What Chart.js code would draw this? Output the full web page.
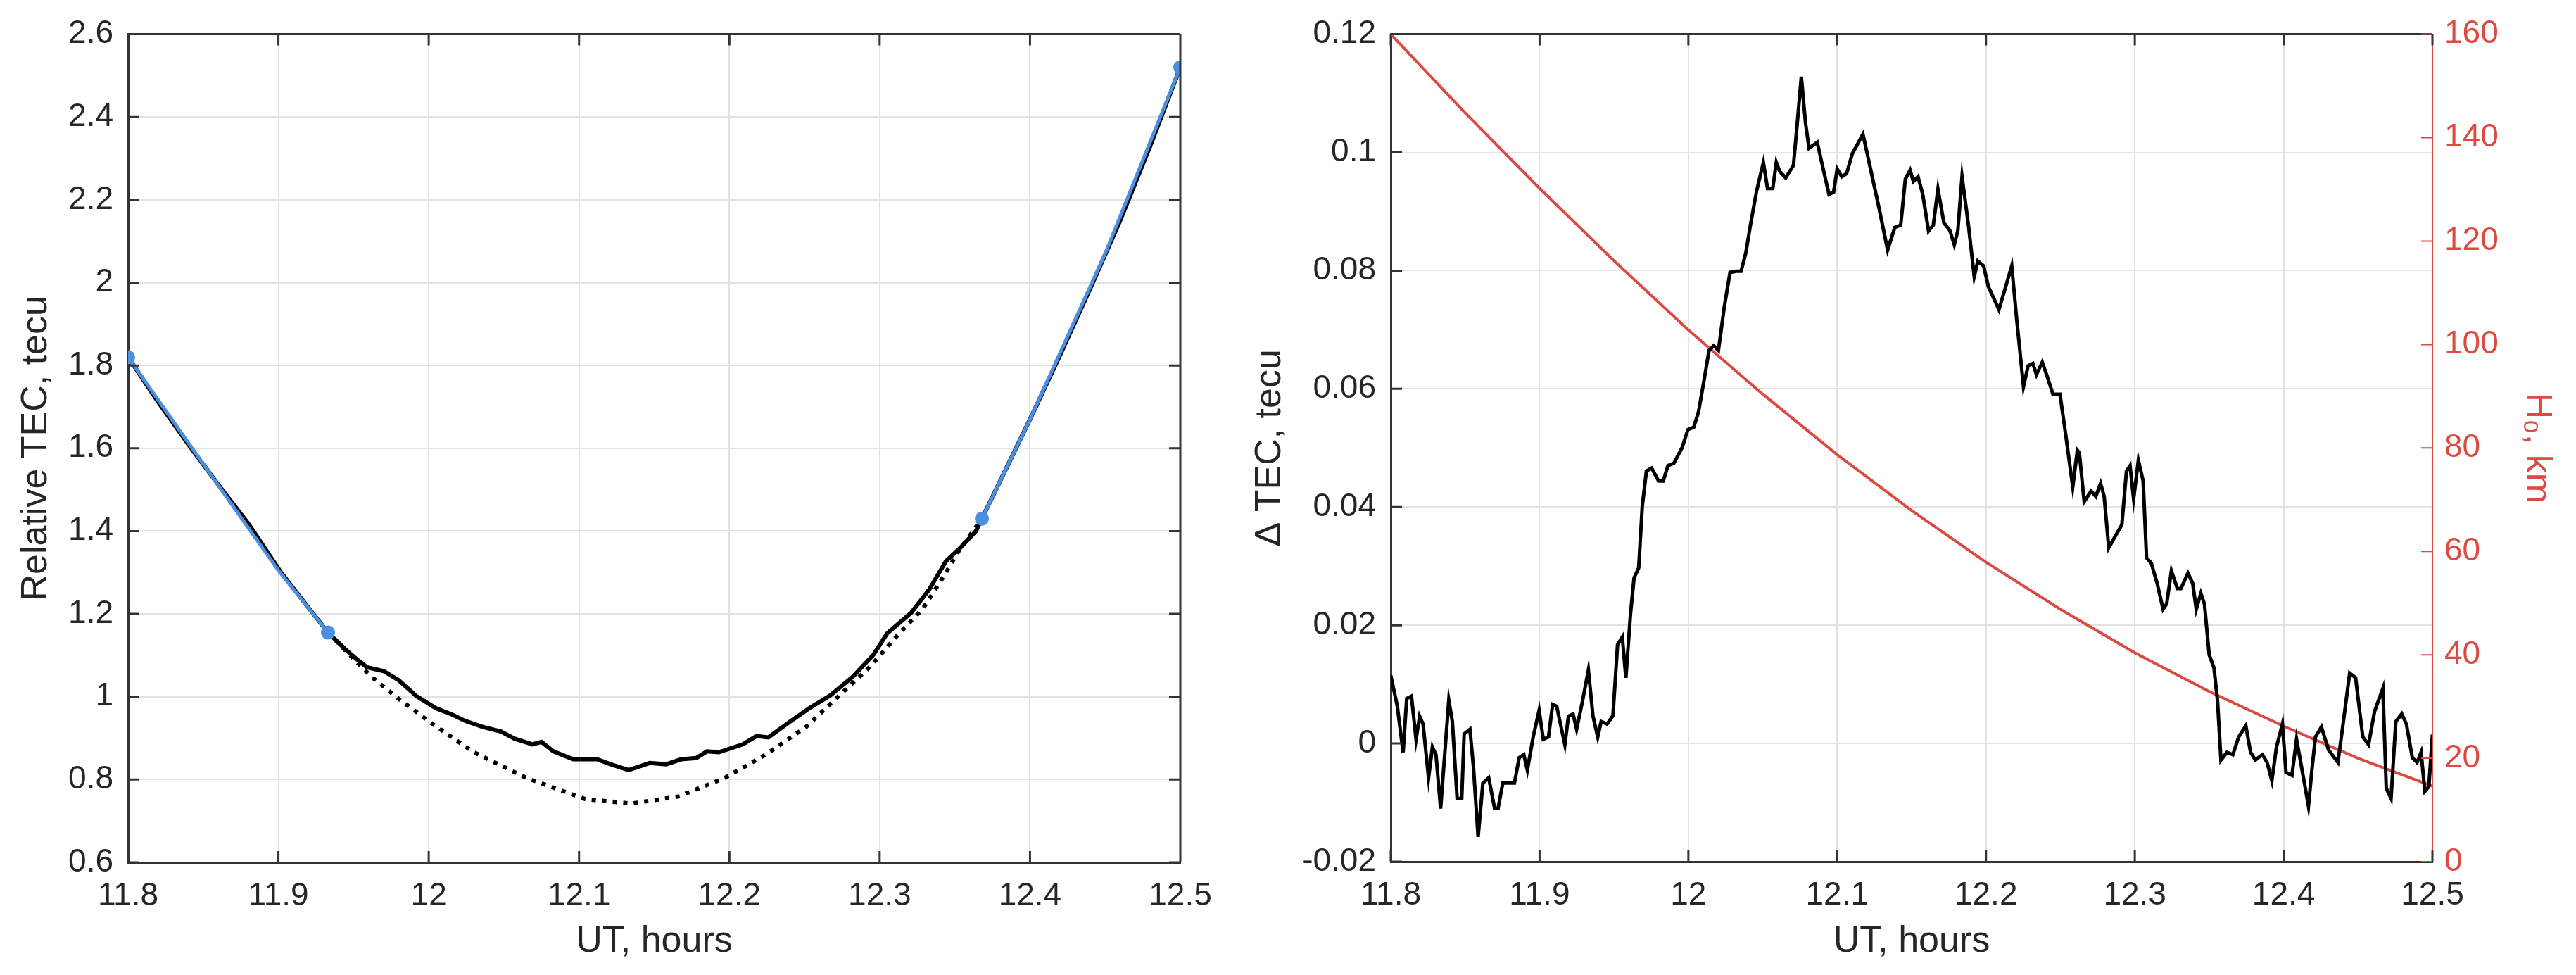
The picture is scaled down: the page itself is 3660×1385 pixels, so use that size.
<!DOCTYPE html>
<html>
<head>
<meta charset="utf-8">
<script src="https://cdn.jsdelivr.net/npm/chart.js@4.4.1/dist/chart.umd.min.js"></script>
<style>
  html, body { margin: 0; padding: 0; background: #fff; }
  #wrap { position: relative; width: 3660px; height: 1385px; }
  canvas { position: absolute; top: 0; }
  #left-chart { left: 0; }
  #right-chart { left: 1760px; }
</style>
</head>
<body>
<div id="wrap">
  <canvas id="left-chart" width="1760" height="1385"></canvas>
  <canvas id="right-chart" width="1900" height="1385"></canvas>
</div>
<script>
// 目盛り
const xTickValues = [11.8, 11.9, 12.0, 12.1, 12.2, 12.3, 12.4, 12.5];
const xTickLabels = ['11.8', '11.9', '12', '12.1', '12.2', '12.3', '12.4', '12.5'];
const tecTickValues = [0.6, 0.8, 1.0, 1.2, 1.4, 1.6, 1.8, 2.0, 2.2, 2.4, 2.6];
const tecTickLabels = ['0.6', '0.8', '1', '1.2', '1.4', '1.6', '1.8', '2', '2.2', '2.4', '2.6'];
const dTecTickValues = [-0.02, 0, 0.02, 0.04, 0.06, 0.08, 0.1, 0.12];
const dTecTickLabels = ['-0.02', '0', '0.02', '0.04', '0.06', '0.08', '0.1', '0.12'];
const hTickValues = [0, 20, 40, 60, 80, 100, 120, 140, 160];
const hTickLabels = ['0', '20', '40', '60', '80', '100', '120', '140', '160'];

// 左: Relative TEC (実線)
const tecTime = [11.800, 11.820, 11.840, 11.860, 11.880, 11.902, 11.920, 11.933, 11.945, 11.953,
  11.959, 11.970, 11.980, 11.992, 12.005, 12.015, 12.024, 12.036, 12.048, 12.057,
  12.069, 12.075, 12.083, 12.096, 12.112, 12.121, 12.133, 12.147, 12.158, 12.168,
  12.178, 12.185, 12.193, 12.209, 12.218, 12.226, 12.240, 12.253, 12.267, 12.282,
  12.296, 12.305, 12.321, 12.333, 12.344, 12.354, 12.364, 12.368, 12.380, 12.400,
  12.420, 12.440, 12.460, 12.480, 12.500];
const tecValues = [1.820, 1.712, 1.610, 1.512, 1.418, 1.299, 1.215, 1.155, 1.113, 1.088,
  1.071, 1.062, 1.040, 1.001, 0.972, 0.958, 0.942, 0.927, 0.916, 0.899,
  0.885, 0.891, 0.868, 0.849, 0.849, 0.837, 0.823, 0.840, 0.837, 0.849,
  0.852, 0.868, 0.866, 0.885, 0.905, 0.902, 0.939, 0.972, 1.003, 1.048,
  1.102, 1.153, 1.203, 1.259, 1.327, 1.361, 1.400, 1.430, 1.520, 1.670,
  1.825, 1.985, 2.150, 2.330, 2.520];

// 左: 青いフィット区間
const fitLeftTime = [11.800, 11.850, 11.900, 11.933];
const fitLeftValues = [1.820, 1.562, 1.305, 1.155];
const fitRightTime = [12.368, 12.400, 12.450, 12.500];
const fitRightValues = [1.430, 1.670, 2.070, 2.520];

// 左: 点線 (背景トレンド)
const trendTime = [11.933, 11.961, 11.980, 12.003, 12.030, 12.065, 12.104, 12.135, 12.166, 12.197,
  12.224, 12.251, 12.274, 12.294, 12.313, 12.329, 12.344, 12.352, 12.368];
const trendValues = [1.155, 1.051, 0.995, 0.933, 0.866, 0.804, 0.753, 0.742, 0.759, 0.804,
  0.860, 0.927, 1.006, 1.074, 1.153, 1.214, 1.299, 1.349, 1.430];

// 右: ΔTEC
const dTecTime = [11.8000, 11.8044, 11.8083, 11.8107, 11.8139, 11.8170, 11.8194, 11.8217, 11.8254, 11.8280,
  11.8304, 11.8335, 11.8390, 11.8414, 11.8446, 11.8477, 11.8493, 11.8532, 11.8556, 11.8587,
  11.8619, 11.8658, 11.8698, 11.8721, 11.8753, 11.8831, 11.8863, 11.8894, 11.8918, 11.8957,
  11.8997, 11.9025, 11.9060, 11.9088, 11.9115, 11.9170, 11.9194, 11.9225, 11.9249, 11.9288,
  11.9328, 11.9359, 11.9391, 11.9414, 11.9454, 11.9493, 11.9524, 11.9556, 11.9580, 11.9611,
  11.9635, 11.9666, 11.9690, 11.9718, 11.9753, 11.9800, 11.9831, 11.9863, 11.9902, 11.9957,
  11.9997, 12.0036, 12.0068, 12.0107, 12.0139, 12.0170, 12.0202, 12.0241, 12.0280, 12.0320,
  12.0354, 12.0386, 12.0417, 12.0457, 12.0504, 12.0532, 12.0567, 12.0591, 12.0614, 12.0654,
  12.0706, 12.0732, 12.0759, 12.0787, 12.0811, 12.0866, 12.0906, 12.0945, 12.0976, 12.1000,
  12.1031, 12.1063, 12.1102, 12.1173, 12.1213, 12.1276, 12.1339, 12.1387, 12.1427, 12.1458,
  12.1490, 12.1512, 12.1543, 12.1575, 12.1614, 12.1646, 12.1677, 12.1717, 12.1757, 12.1787,
  12.1811, 12.1839, 12.1882, 12.1921, 12.1945, 12.1984, 12.2016, 12.2087, 12.2173, 12.2205,
  12.2252, 12.2283, 12.2315, 12.2339, 12.2378, 12.2410, 12.2450, 12.2497, 12.2536, 12.2583,
  12.2614, 12.2627, 12.2660, 12.2706, 12.2738, 12.2770, 12.2794, 12.2825, 12.2865, 12.2913,
  12.2944, 12.2968, 12.2992, 12.3024, 12.3056, 12.3079, 12.3111, 12.3150, 12.3190, 12.3214,
  12.3246, 12.3286, 12.3310, 12.3357, 12.3389, 12.3413, 12.3444, 12.3468, 12.3500, 12.3532,
  12.3556, 12.3579, 12.3619, 12.3659, 12.3698, 12.3746, 12.3778, 12.3810, 12.3857, 12.3889,
  12.3921, 12.3952, 12.3992, 12.4016, 12.4056, 12.4087, 12.4127, 12.4167, 12.4190, 12.4214,
  12.4254, 12.4302, 12.4365, 12.4397, 12.4444, 12.4484, 12.4532, 12.4571, 12.4611, 12.4667,
  12.4690, 12.4722, 12.4754, 12.4794, 12.4825, 12.4865, 12.4897, 12.4924, 12.4949, 12.4976,
  12.5000];
const dTecValues = [0.0115, 0.0063, -0.0015, 0.0076, 0.0080, 0.0007, 0.0046, 0.0033, -0.0058, -0.0006,
  -0.0019, -0.0110, 0.0073, 0.0037, -0.0093, -0.0093, 0.0016, 0.0024, -0.0041, -0.0158,
  -0.0067, -0.0058, -0.0110, -0.0110, -0.0067, -0.0067, -0.0024, -0.0019, -0.0045, 0.0011,
  0.0056, 0.0007, 0.0011, 0.0066, 0.0063, -0.0002, 0.0046, 0.0050, 0.0024, 0.0071,
  0.0124, 0.0046, 0.0011, 0.0037, 0.0033, 0.0047, 0.0167, 0.0180, 0.0111, 0.0219,
  0.0280, 0.0297, 0.0401, 0.0461, 0.0466, 0.0444, 0.0444, 0.0470, 0.0474, 0.0500,
  0.0531, 0.0535, 0.0561, 0.0617, 0.0665, 0.0673, 0.0665, 0.0738, 0.0797, 0.0799,
  0.0799, 0.0830, 0.0877, 0.0933, 0.0983, 0.0939, 0.0939, 0.0983, 0.0968, 0.0957,
  0.0978, 0.1050, 0.1128, 0.1050, 0.1007, 0.1017, 0.0972, 0.0929, 0.0933, 0.0972,
  0.0959, 0.0964, 0.0998, 0.1031, 0.0985, 0.0912, 0.0835, 0.0873, 0.0877, 0.0955,
  0.0970, 0.0951, 0.0959, 0.0929, 0.0867, 0.0877, 0.0938, 0.0881, 0.0868, 0.0844,
  0.0868, 0.0959, 0.0877, 0.0790, 0.0816, 0.0808, 0.0773, 0.0734, 0.0808, 0.0721,
  0.0604, 0.0639, 0.0643, 0.0624, 0.0645, 0.0622, 0.0591, 0.0591, 0.0522, 0.0434,
  0.0496, 0.0492, 0.0409, 0.0427, 0.0418, 0.0440, 0.0418, 0.0331, 0.0349, 0.0370,
  0.0461, 0.0470, 0.0414, 0.0479, 0.0444, 0.0314, 0.0305, 0.0271, 0.0227, 0.0236,
  0.0292, 0.0262, 0.0262, 0.0288, 0.0271, 0.0227, 0.0254, 0.0236, 0.0150, 0.0128,
  0.0072, -0.0028, -0.0015, -0.0019, 0.0011, 0.0030, -0.0015, -0.0028, -0.0019, -0.0032,
  -0.0063, -0.0006, 0.0033, -0.0049, -0.0054, 0.0007, -0.0049, -0.0106, -0.0045, 0.0011,
  0.0028, -0.0011, -0.0032, 0.0028, 0.0119, 0.0111, 0.0011, -0.0002, 0.0054, 0.0093,
  -0.0076, -0.0093, 0.0037, 0.0050, 0.0033, -0.0024, -0.0032, -0.0015, -0.0081, -0.0073,
  0.0015];

// 右: H0
const hTime = [11.80, 11.85, 11.90, 11.95, 12.00, 12.05, 12.10, 12.15, 12.20, 12.25, 12.30, 12.35, 12.40, 12.45, 12.50];
const hValues = [160, 144.8, 130.2, 116.2, 102.8, 90.4, 78.7, 67.9, 57.9, 48.8, 40.4, 32.9, 26.2, 20.0, 14.6];

// スタイル
const textColor = '#262626';
const axisColor = '#333333';
const gridColor = '#e2e2e2';
const blue = '#4a8fe0';
const red = '#dc4a42';
const tickLen = 16;

Chart.defaults.font.family = '"Liberation Sans", Arial, Helvetica, sans-serif';
Chart.defaults.color = textColor;

const toPoints = (xs, ys) => xs.map((x, i) => ({ x, y: ys[i] }));

// MATLAB風の内向き目盛りと枠線
const boxTicks = {
  id: 'boxTicks',
  afterDatasetsDraw(chart, args, opts) {
    const { ctx, chartArea: a, scales } = chart;
    const xs = scales.x, ys = scales.y;
    ctx.save();
    ctx.lineWidth = 3;
    ctx.strokeStyle = axisColor;
    ctx.beginPath();
    ctx.moveTo(a.left, a.top);
    ctx.lineTo(a.right, a.top);
    if (opts.rightBox) {
      ctx.moveTo(a.right, a.top);
      ctx.lineTo(a.right, a.bottom);
    }
    xs.ticks.forEach(t => {
      const px = xs.getPixelForValue(t.value);
      ctx.moveTo(px, a.bottom);
      ctx.lineTo(px, a.bottom - tickLen);
      ctx.moveTo(px, a.top);
      ctx.lineTo(px, a.top + tickLen);
    });
    ys.ticks.forEach(t => {
      const py = ys.getPixelForValue(t.value);
      ctx.moveTo(a.left, py);
      ctx.lineTo(a.left + tickLen, py);
      if (opts.rightBox) {
        ctx.moveTo(a.right, py);
        ctx.lineTo(a.right - tickLen, py);
      }
    });
    ctx.stroke();
    if (scales.y1) {
      ctx.strokeStyle = red;
      ctx.lineWidth = 2;
      ctx.beginPath();
      scales.y1.ticks.forEach(t => {
        const py = scales.y1.getPixelForValue(t.value);
        ctx.moveTo(a.right, py);
        ctx.lineTo(a.right - tickLen, py);
      });
      ctx.stroke();
    }
    ctx.restore();
  }
};

const fixedTicks = (values) => s => {
  s.ticks = values.map(v => ({ value: v }));
};

const xScale = (height) => ({
  type: 'linear',
  min: 11.8,
  max: 12.5,
  afterBuildTicks: fixedTicks(xTickValues),
  afterFit: s => { s.height = height; },
  grid: { color: gridColor, lineWidth: 2, drawTicks: false },
  border: { color: axisColor, width: 3 },
  ticks: {
    autoSkip: false, maxRotation: 0, padding: 21,
    font: { size: 46 }, color: textColor,
    callback: (v, i) => xTickLabels[i]
  },
  title: {
    display: true, text: 'UT, hours', color: textColor,
    font: { size: 52 }, padding: { top: 0, bottom: 16 }
  }
});

const endMarker = n => c => (c.dataIndex === 0 || c.dataIndex === n - 1) ? 10 : 0;

// 左のグラフ
new Chart(document.getElementById('left-chart'), {
  type: 'line',
  data: {
    datasets: [
      {
        data: toPoints(fitLeftTime, fitLeftValues),
        borderColor: blue, backgroundColor: blue, borderWidth: 5,
        pointRadius: endMarker(fitLeftTime.length), pointBorderWidth: 0,
        order: 0
      },
      {
        data: toPoints(fitRightTime, fitRightValues),
        borderColor: blue, backgroundColor: blue, borderWidth: 5,
        pointRadius: endMarker(fitRightTime.length), pointBorderWidth: 0,
        order: 0
      },
      {
        data: toPoints(tecTime, tecValues),
        borderColor: '#000', borderWidth: 6, pointRadius: 0,
        order: 1
      },
      {
        data: toPoints(trendTime, trendValues),
        borderColor: '#000', borderWidth: 6, borderDash: [6, 9], pointRadius: 0,
        order: 2
      }
    ]
  },
  options: {
    responsive: false,
    animation: false,
    devicePixelRatio: 1,
    layout: { padding: { top: 42, right: 83, bottom: 0, left: 0 } },
    elements: { line: { tension: 0 } },
    plugins: { legend: { display: false }, tooltip: { enabled: false }, boxTicks: { rightBox: true } },
    scales: {
      x: xScale(160),
      y: {
        type: 'linear',
        min: 0.6,
        max: 2.6,
        afterBuildTicks: fixedTicks(tecTickValues),
        afterFit: s => { s.width = 182; },
        grid: { color: gridColor, lineWidth: 2, drawTicks: false },
        border: { color: axisColor, width: 3 },
        ticks: {
          autoSkip: false, padding: 21, font: { size: 46 }, color: textColor,
          callback: (v, i) => tecTickLabels[i]
        },
        title: {
          display: true, text: 'Relative TEC, tecu', color: textColor,
          font: { size: 52 }, padding: { top: 20, bottom: 0 }
        }
      }
    }
  },
  plugins: [boxTicks]
});

// 右のグラフ
new Chart(document.getElementById('right-chart'), {
  type: 'line',
  data: {
    datasets: [
      {
        data: toPoints(dTecTime, dTecValues),
        borderColor: '#000', borderWidth: 5, pointRadius: 0,
        yAxisID: 'y', order: 0
      },
      {
        data: toPoints(hTime, hValues),
        borderColor: red, borderWidth: 4, pointRadius: 0,
        yAxisID: 'y1', order: 1
      }
    ]
  },
  options: {
    responsive: false,
    animation: false,
    devicePixelRatio: 1,
    layout: { padding: { top: 47, right: 0, bottom: 0, left: 0 } },
    elements: { line: { tension: 0 } },
    plugins: { legend: { display: false }, tooltip: { enabled: false }, boxTicks: { rightBox: false } },
    scales: {
      x: xScale(161),
      y: {
        type: 'linear',
        position: 'left',
        min: -0.02,
        max: 0.12,
        afterBuildTicks: fixedTicks(dTecTickValues),
        afterFit: s => { s.width = 216; },
        grid: { color: gridColor, lineWidth: 2, drawTicks: false },
        border: { color: axisColor, width: 3 },
        ticks: {
          autoSkip: false, padding: 21, font: { size: 46 }, color: textColor,
          callback: (v, i) => dTecTickLabels[i]
        },
        title: {
          display: true, text: '\u0394 TEC, tecu', color: textColor,
          font: { size: 52 }, padding: { top: 13, bottom: 0 }
        }
      },
      y1: {
        type: 'linear',
        position: 'right',
        min: 0,
        max: 160,
        afterBuildTicks: fixedTicks(hTickValues),
        afterFit: s => { s.width = 204; },
        grid: { display: false, drawTicks: false },
        border: { color: red, width: 2 },
        ticks: {
          autoSkip: false, padding: 17, font: { size: 46 }, color: red,
          callback: (v, i) => hTickLabels[i]
        },
        title: {
          display: true, text: 'H\u2080, km', color: red,
          font: { size: 52 }, padding: { top: 24, bottom: 0 }
        }
      }
    }
  },
  plugins: [boxTicks]
});
</script>
</body>
</html>
